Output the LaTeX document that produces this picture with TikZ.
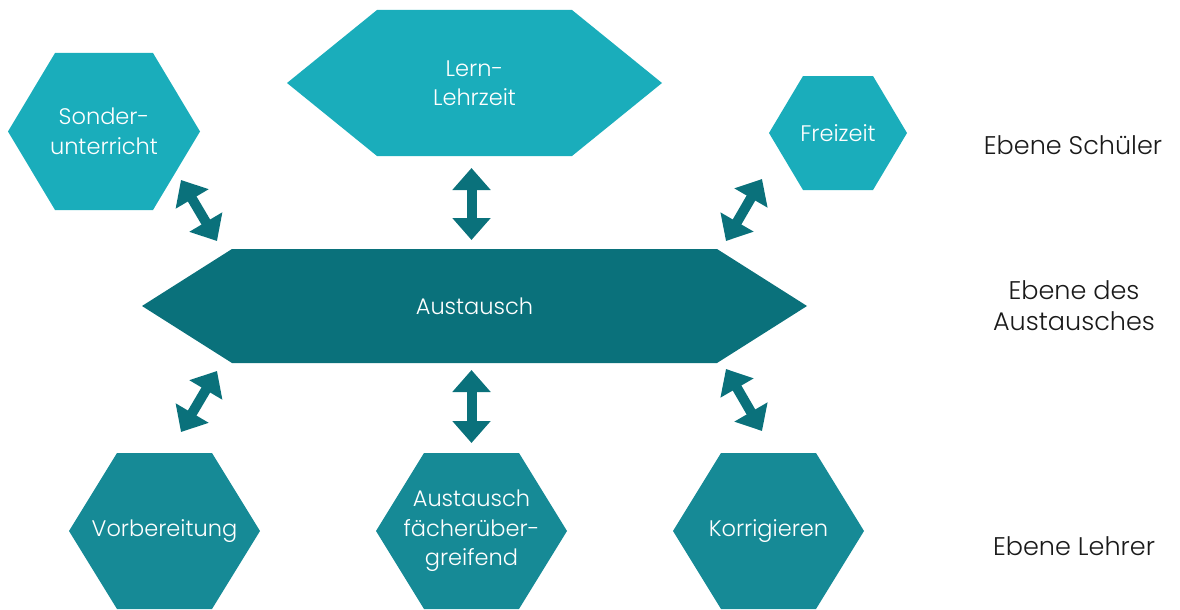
\documentclass[tikz,border=0pt]{standalone}
\usepackage{fontspec}
\setmainfont{Poppins}[UprightFont=* Light]
\usetikzlibrary{arrows.meta}
\definecolor{tealA}{HTML}{1AADBB}
\definecolor{tealB}{HTML}{0A717B}
\definecolor{tealC}{HTML}{168A96}
\definecolor{lbl}{HTML}{1A1A1A}
\tikzset{
  hextext/.style={text=white,align=center,font=\fontsize{22.5}{29.5}\selectfont,inner sep=0pt},
  lvltext/.style={text=lbl,align=center,font=\fontsize{25.5}{31}\selectfont,inner sep=0pt},
  dblarrow/.style={draw=tealB,line width=10pt,{Triangle[width=37pt,length=22pt]}-{Triangle[width=37pt,length=22pt]}}
}
\newcommand\hexnode[8]{%
  \fill[#7] (#2-#4,#3) -- (#2-#4+#6,#3-#5) -- (#2+#4-#6,#3-#5) -- (#2+#4,#3) -- (#2+#4-#6,#3+#5) -- (#2-#4+#6,#3+#5) -- cycle;
  \node[hextext] (#1) at (#2,#3) {#8};}
\begin{document}
\begin{tikzpicture}[x=1pt,y=-1pt]
\useasboundingbox (0,0) rectangle (1180,610);
% top row
\hexnode{sonder}{104}{131.5}{96}{78.5}{47}{tealA}{Sonder-\\unterricht}
\hexnode{lern}{474.5}{83}{187.5}{73}{90}{tealA}{Lern-\\Lehrzeit}
\hexnode{frei}{838}{133}{69}{57}{34}{tealA}{Freizeit}
% middle
\hexnode{aust}{474.5}{306}{332.5}{57}{90}{tealB}{Austausch}
% bottom row
\hexnode{vorb}{164.5}{531}{95.5}{78}{48}{tealC}{Vorbereitung}
\hexnode{faech}{471.5}{531}{95.5}{78}{48}{tealC}{Austausch\\fächerüber-\\greifend}
\hexnode{korr}{768.5}{531}{95.5}{78}{48}{tealC}{Korrigieren}
% level labels
\node[lvltext] (l1) at (1073,145) {Ebene Schüler};
\node[lvltext] (l2) at (1074,306) {Ebene des\\Austausches};
\node[lvltext] (l3) at (1074,546) {Ebene Lehrer};
% arrow end points
\coordinate (a1s) at (181,180); \coordinate (a1e) at (217,241);
\coordinate (a2s) at (471.5,168); \coordinate (a2e) at (471.5,240);
\coordinate (a3s) at (762,179); \coordinate (a3e) at (726,241);
\coordinate (b1s) at (217,371); \coordinate (b1e) at (181,432);
\coordinate (b2s) at (471.5,370); \coordinate (b2e) at (471.5,443);
\coordinate (b3s) at (726,369); \coordinate (b3e) at (762,431);
\draw[dblarrow] (a1s) -- (a1e);
\draw[dblarrow] (a2s) -- (a2e);
\draw[dblarrow] (a3s) -- (a3e);
\draw[dblarrow] (b1s) -- (b1e);
\draw[dblarrow] (b2s) -- (b2e);
\draw[dblarrow] (b3s) -- (b3e);
\end{tikzpicture}
\end{document}
